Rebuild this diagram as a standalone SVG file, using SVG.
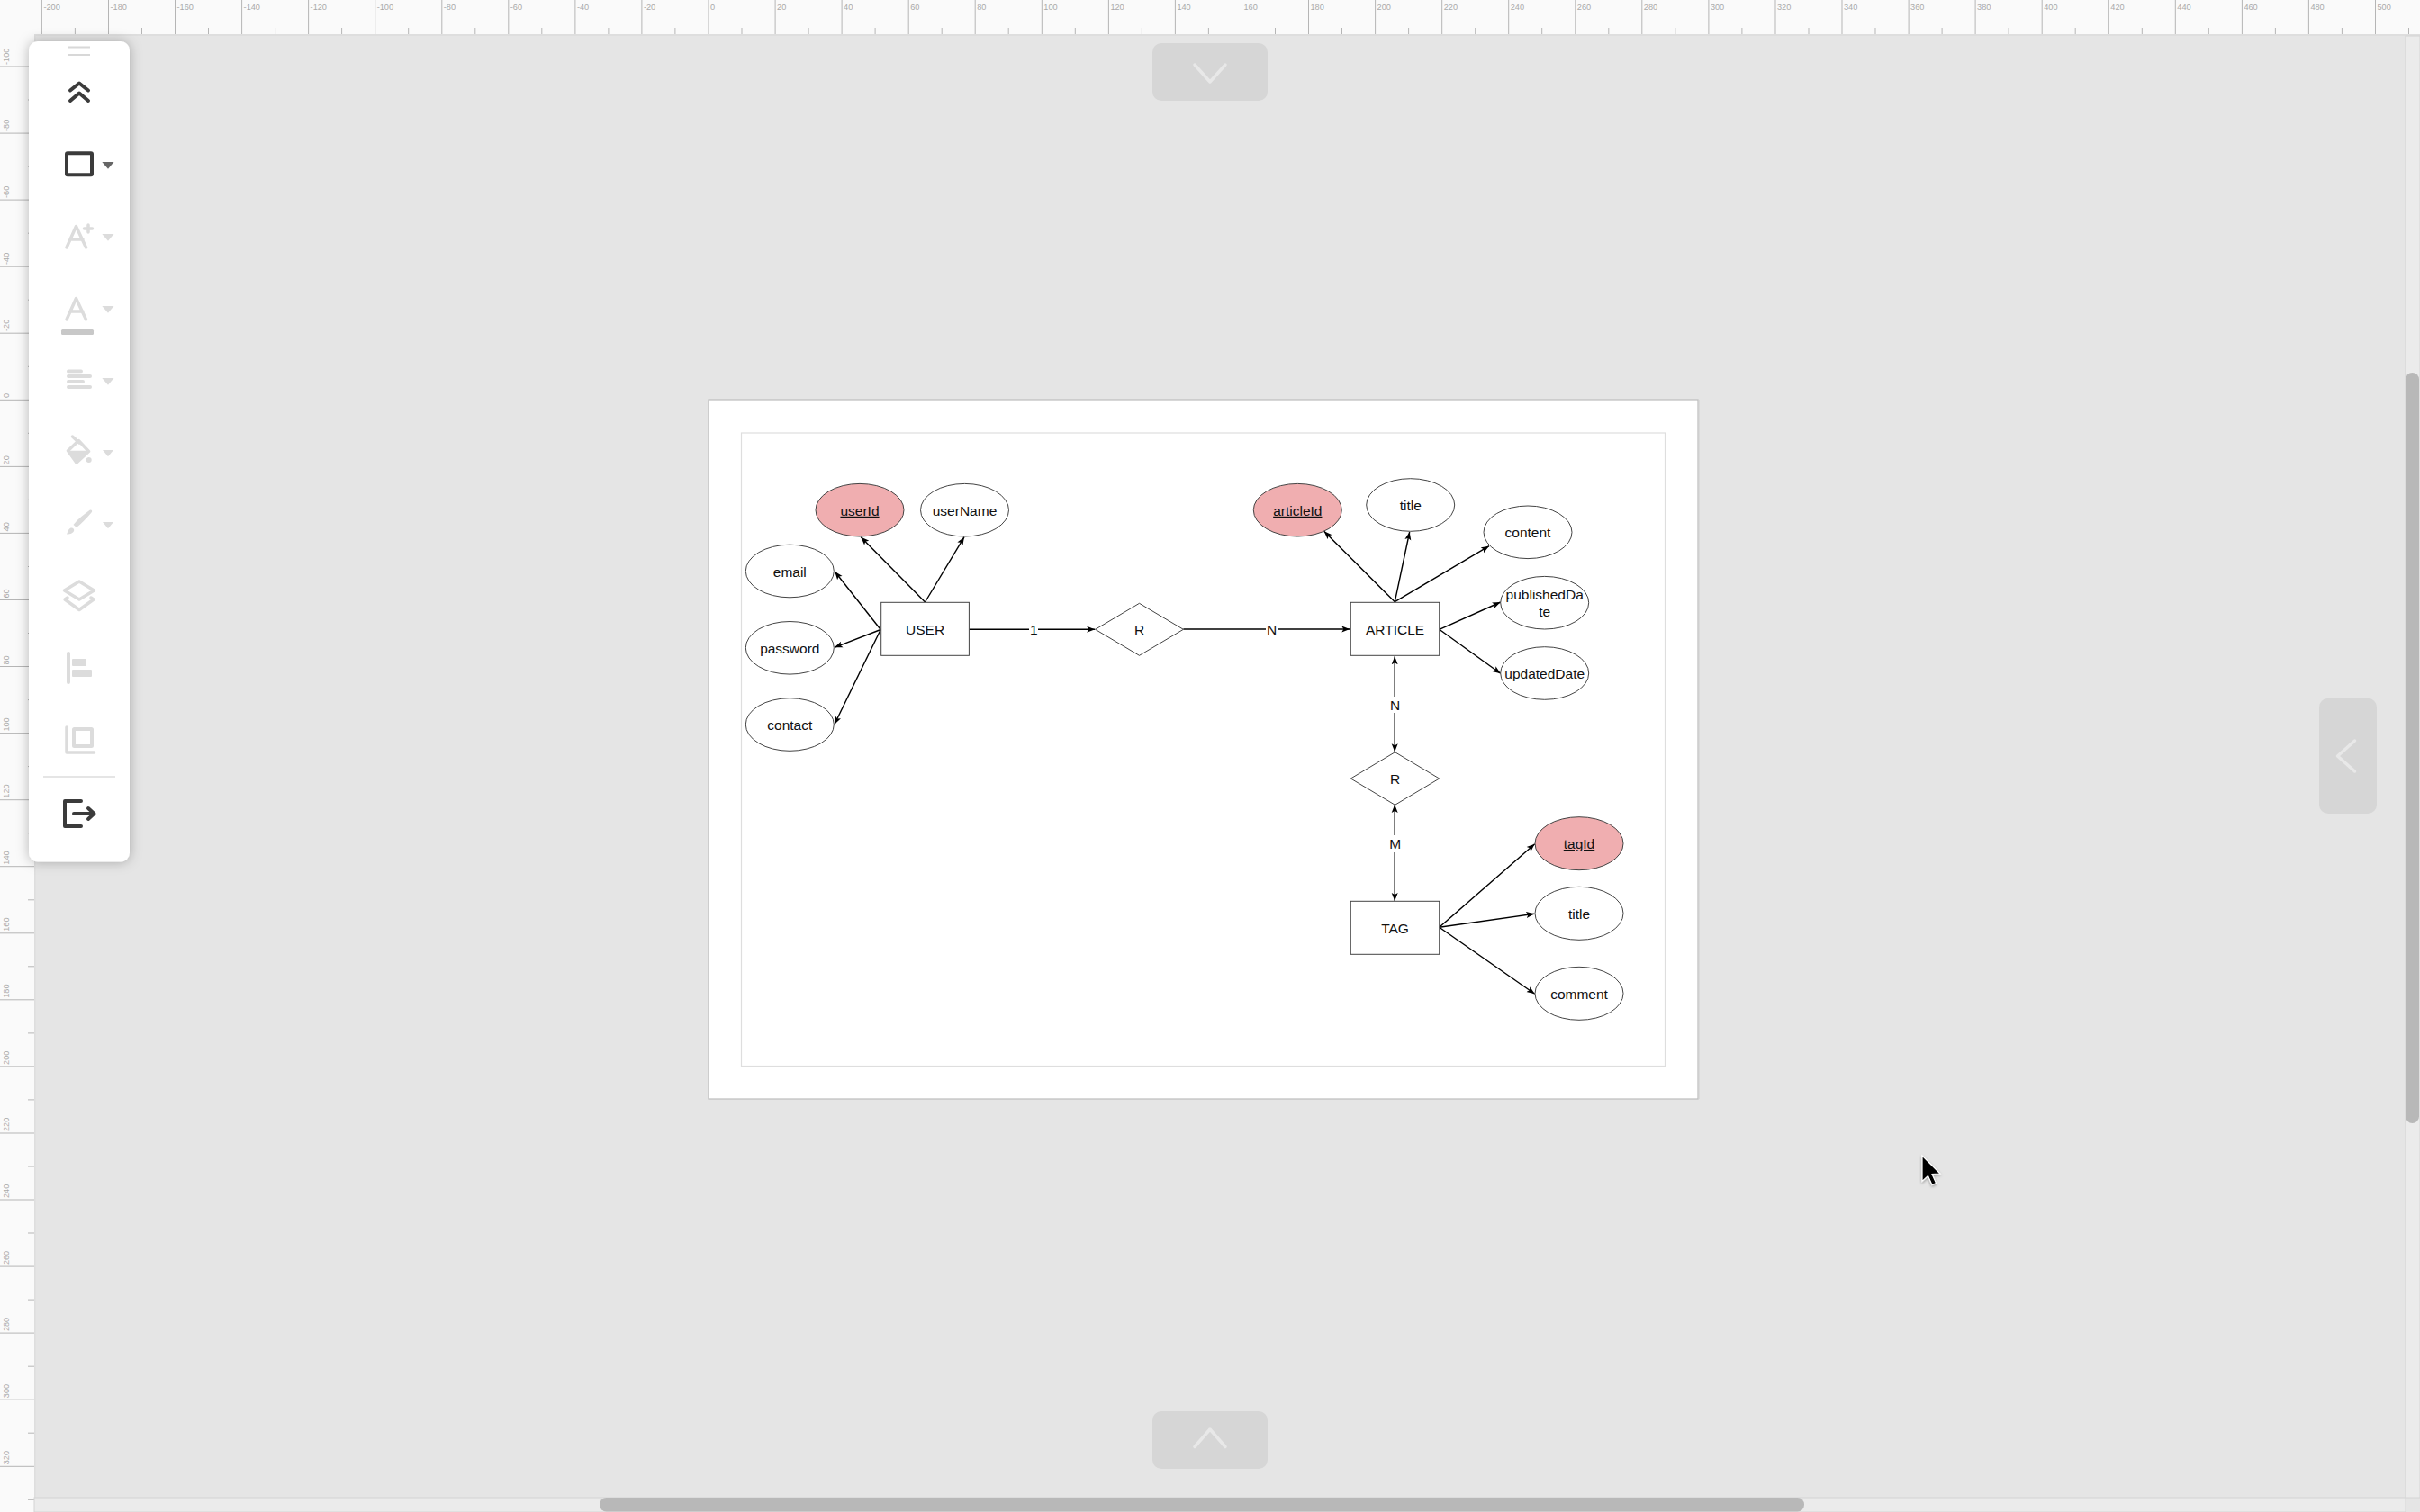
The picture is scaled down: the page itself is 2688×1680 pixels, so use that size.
<svg xmlns="http://www.w3.org/2000/svg" width="2688" height="1680" viewBox="0 0 2688 1680">
<style>
text{font-family:"Liberation Sans",Arial,sans-serif}
.rl{font-size:9.2px;fill:#aaa}
.n{font-size:15.5px;fill:#111;text-anchor:middle}
.u{text-decoration:underline}
.sh{fill:#fff;stroke:#444;stroke-width:1}
.pk{fill:#f0aeb0;stroke:#444;stroke-width:1}
.c{fill:none;stroke:#000;stroke-width:1.4;marker-end:url(#ah)}
.b{marker-start:url(#ah)}
.lb{fill:#fff}
.ic{fill:none;stroke:#dcdcdc;stroke-width:3.5;stroke-linecap:round;stroke-linejoin:round}
.icf{fill:#dcdcdc}
.dk{fill:none;stroke:#3b3b3b;stroke-width:4;stroke-linecap:round;stroke-linejoin:round}
.nav{fill:#d6d6d6}
.chv{fill:none;stroke:#e8e8e8;stroke-width:3.5;stroke-linecap:round;stroke-linejoin:round}
.sb{fill:#b8b8b8}
</style>
<defs>
<marker id="ah" markerUnits="userSpaceOnUse" markerWidth="10" markerHeight="8" refX="9" refY="4" orient="auto-start-reverse"><path d="M0 .5L9 4L0 7.5L2 4Z" fill="#000"/></marker>
<filter id="tb" x="-40%" y="-10%" width="180%" height="120%"><feDropShadow dx="0" dy="0" stdDeviation="7" flood-color="#000" flood-opacity=".28"/></filter>
<filter id="cs" x="-50%" y="-50%" width="200%" height="200%"><feDropShadow dx="0" dy="1.5" stdDeviation="1.5" flood-color="#000" flood-opacity=".35"/></filter>
</defs>
<rect width="2688" height="1680" fill="#e5e5e5"/>

<g id="ruler-top">
<rect width="2688" height="38" fill="#fafafa"/>
<rect y="38" x="38" width="2650" height="2" fill="#dedede"/>
<path fill="none" stroke="#b5b5b5" d="M46.4 0V38M120.5 0V38M194.5 0V38M268.6 0V38M342.6 0V38M416.7 0V38M490.8 0V38M564.8 0V38M638.9 0V38M712.9 0V38M787 0V38M861.1 0V38M935.1 0V38M1009.2 0V38M1083.2 0V38M1157.3 0V38M1231.4 0V38M1305.4 0V38M1379.5 0V38M1453.5 0V38M1527.6 0V38M1601.7 0V38M1675.7 0V38M1749.8 0V38M1823.8 0V38M1897.9 0V38M1972 0V38M2046 0V38M2120.1 0V38M2194.1 0V38M2268.2 0V38M2342.3 0V38M2416.3 0V38M2490.4 0V38M2564.4 0V38M2638.5 0V38"/>
<path fill="none" stroke="#b5b5b5" d="M83.4 31V38M157.5 31V38M231.5 31V38M305.6 31V38M379.6 31V38M453.7 31V38M527.8 31V38M601.8 31V38M675.9 31V38M749.9 31V38M824 31V38M898.1 31V38M972.1 31V38M1046.2 31V38M1120.2 31V38M1194.3 31V38M1268.4 31V38M1342.4 31V38M1416.5 31V38M1490.5 31V38M1564.6 31V38M1638.7 31V38M1712.7 31V38M1786.8 31V38M1860.8 31V38M1934.9 31V38M2009 31V38M2083 31V38M2157.1 31V38M2231.1 31V38M2305.2 31V38M2379.3 31V38M2453.3 31V38M2527.4 31V38M2601.4 31V38M2675.5 31V38"/>
<text class="rl" x="48.4" y="10.5">-200</text><text class="rl" x="122.5" y="10.5">-180</text><text class="rl" x="196.5" y="10.5">-160</text><text class="rl" x="270.6" y="10.5">-140</text><text class="rl" x="344.6" y="10.5">-120</text><text class="rl" x="418.7" y="10.5">-100</text><text class="rl" x="492.8" y="10.5">-80</text><text class="rl" x="566.8" y="10.5">-60</text><text class="rl" x="640.9" y="10.5">-40</text><text class="rl" x="714.9" y="10.5">-20</text><text class="rl" x="789" y="10.5">0</text><text class="rl" x="863.1" y="10.5">20</text><text class="rl" x="937.1" y="10.5">40</text><text class="rl" x="1011.2" y="10.5">60</text><text class="rl" x="1085.2" y="10.5">80</text><text class="rl" x="1159.3" y="10.5">100</text><text class="rl" x="1233.4" y="10.5">120</text><text class="rl" x="1307.4" y="10.5">140</text><text class="rl" x="1381.5" y="10.5">160</text><text class="rl" x="1455.5" y="10.5">180</text><text class="rl" x="1529.6" y="10.5">200</text><text class="rl" x="1603.7" y="10.5">220</text><text class="rl" x="1677.7" y="10.5">240</text><text class="rl" x="1751.8" y="10.5">260</text><text class="rl" x="1825.8" y="10.5">280</text><text class="rl" x="1899.9" y="10.5">300</text><text class="rl" x="1974" y="10.5">320</text><text class="rl" x="2048" y="10.5">340</text><text class="rl" x="2122.1" y="10.5">360</text><text class="rl" x="2196.1" y="10.5">380</text><text class="rl" x="2270.2" y="10.5">400</text><text class="rl" x="2344.3" y="10.5">420</text><text class="rl" x="2418.3" y="10.5">440</text><text class="rl" x="2492.4" y="10.5">460</text><text class="rl" x="2566.4" y="10.5">480</text><text class="rl" x="2640.5" y="10.5">500</text>
</g>

<g id="ruler-left">
<rect width="38" height="1680" fill="#fafafa"/>
<rect x="38" y="38" width="1.5" height="1642" fill="#dedede"/>
<path fill="none" stroke="#b5b5b5" d="M0 74H38M0 148.1H38M0 222.1H38M0 296.2H38M0 370.2H38M0 444.3H38M0 518.4H38M0 592.4H38M0 666.5H38M0 740.5H38M0 814.6H38M0 888.7H38M0 962.7H38M0 1036.8H38M0 1110.8H38M0 1184.9H38M0 1259H38M0 1333H38M0 1407.1H38M0 1481.1H38M0 1555.2H38M0 1629.3H38"/>
<path fill="none" stroke="#b5b5b5" d="M31 111H38M31 185.1H38M31 259.2H38M31 333.2H38M31 407.3H38M31 481.3H38M31 555.4H38M31 629.5H38M31 703.5H38M31 777.6H38M31 851.6H38M31 925.7H38M31 999.8H38M31 1073.8H38M31 1147.9H38M31 1221.9H38M31 1296H38M31 1370H38M31 1444.1H38M31 1518.2H38M31 1592.2H38M31 1666.3H38"/>
<text class="rl" transform="translate(10,72) rotate(-90)">-100</text><text class="rl" transform="translate(10,146) rotate(-90)">-80</text><text class="rl" transform="translate(10,220) rotate(-90)">-60</text><text class="rl" transform="translate(10,294) rotate(-90)">-40</text><text class="rl" transform="translate(10,368) rotate(-90)">-20</text><text class="rl" transform="translate(10,442) rotate(-90)">0</text><text class="rl" transform="translate(10,516.4) rotate(-90)">20</text><text class="rl" transform="translate(10,590.4) rotate(-90)">40</text><text class="rl" transform="translate(10,664.5) rotate(-90)">60</text><text class="rl" transform="translate(10,738.5) rotate(-90)">80</text><text class="rl" transform="translate(10,812.6) rotate(-90)">100</text><text class="rl" transform="translate(10,886.7) rotate(-90)">120</text><text class="rl" transform="translate(10,960.7) rotate(-90)">140</text><text class="rl" transform="translate(10,1034.8) rotate(-90)">160</text><text class="rl" transform="translate(10,1108.8) rotate(-90)">180</text><text class="rl" transform="translate(10,1182.9) rotate(-90)">200</text><text class="rl" transform="translate(10,1257) rotate(-90)">220</text><text class="rl" transform="translate(10,1331) rotate(-90)">240</text><text class="rl" transform="translate(10,1405.1) rotate(-90)">260</text><text class="rl" transform="translate(10,1479.1) rotate(-90)">280</text><text class="rl" transform="translate(10,1553.2) rotate(-90)">300</text><text class="rl" transform="translate(10,1627.3) rotate(-90)">320</text>
</g>

<g id="scrollbars">
<rect x="2672" y="40" width="16" height="1624" fill="#ebebeb" stroke="#d4d4d4"/>
<rect x="38" y="1664" width="2634" height="16" fill="#ebebeb" stroke="#d4d4d4"/>
<rect class="sb" x="2672" y="414" width="15" height="834" rx="7.5"/>
<rect class="sb" x="666" y="1664" width="1338" height="15.5" rx="7.5"/>
</g>

<g id="nav-buttons">
<rect class="nav" x="1280" y="48" width="128" height="64" rx="10"/>
<path class="chv" d="M1327 72L1344 91L1361 72"/>
<rect class="nav" x="1280" y="1568" width="128" height="64" rx="10"/>
<path class="chv" d="M1327 1607.5L1344 1588L1361 1607.5"/>
<rect class="nav" x="2576" y="775.7" width="64" height="128.3" rx="10"/>
<path class="chv" d="M2615.5 823L2596.5 840L2615.5 857"/>
</g>

<g id="page">
<rect x="787" y="444" width="1099" height="777" fill="#fff" stroke="#bdbdbd" stroke-width="1.2"/>
<rect x="1886" y="444" width="1.5" height="777" fill="#cfcfcf"/>
<rect x="823.5" y="481" width="1026" height="703.5" fill="#fff" stroke="#dedede" stroke-width="1.2"/>
</g>

<g id="connectors">
<path class="c" d="M1027.5 669L956.3 596.7"/>
<path class="c" d="M1027.5 669L1071 596.7"/>
<path class="c" d="M978.2 699.5L927.3 635"/>
<path class="c" d="M978.2 699.5L926.9 719.3"/>
<path class="c" d="M978.2 699.5L926.9 804.7"/>
<path class="c" d="M1076.4 699.3H1216.2"/>
<path class="c" d="M1314.4 699H1499.3"/>
<path class="c" d="M1549.3 668.7L1470.7 590.3"/>
<path class="c" d="M1549.3 668.7L1565.7 591"/>
<path class="c" d="M1549.3 668.7L1654 606.7"/>
<path class="c" d="M1598.7 699.3L1666.7 669"/>
<path class="c" d="M1598.7 699.3L1666.7 748.3"/>
<path class="c b" d="M1549.2 729.3V835.3"/>
<path class="c b" d="M1549.2 894V1001"/>
<path class="c" d="M1598.7 1030.3L1704.7 937.7"/>
<path class="c" d="M1598.7 1030.3L1704.3 1015.3"/>
<path class="c" d="M1598.7 1030.3L1704.7 1104.3"/>
<rect class="lb" x="1143" y="690" width="10" height="18"/><text class="n" x="1148.3" y="704.8">1</text>
<rect class="lb" x="1406" y="690" width="13" height="18"/><text class="n" x="1412.7" y="704.8">N</text>
<rect class="lb" x="1541" y="774" width="17" height="18"/><text class="n" x="1549.7" y="789">N</text>
<rect class="lb" x="1540" y="928" width="19" height="19"/><text class="n" x="1549.7" y="943">M</text>
</g>

<g id="userId"><ellipse class="pk" cx="955" cy="566.7" rx="49" ry="29.3"/><text class="n u" x="955" y="572.8">userId</text></g>
<g id="userName"><ellipse class="sh" cx="1071.5" cy="566.7" rx="49" ry="29.3"/><text class="n" x="1071.5" y="572.8">userName</text></g>
<g id="email"><ellipse class="sh" cx="877.3" cy="634.5" rx="49" ry="29.3"/><text class="n" x="877.3" y="640.5">email</text></g>
<g id="password"><ellipse class="sh" cx="877.3" cy="719.8" rx="49" ry="29.3"/><text class="n" x="877.3" y="725.8">password</text></g>
<g id="contact"><ellipse class="sh" cx="877.3" cy="805" rx="49" ry="29.3"/><text class="n" x="877.3" y="811">contact</text></g>
<g id="USER"><rect class="sh" x="978.7" y="669.3" width="97.7" height="59"/><text class="n" x="1027.6" y="704.8">USER</text></g>
<g id="R1"><path class="sh" d="M1265.5 670.3L1314.4 699.3L1265.5 728.3L1216.6 699.3Z"/><text class="n" x="1265.5" y="704.8">R</text></g>
<g id="articleId"><ellipse class="pk" cx="1441.3" cy="566.7" rx="49" ry="29.3"/><text class="n u" x="1441.3" y="572.8">articleId</text></g>
<g id="title1"><ellipse class="sh" cx="1566.7" cy="561" rx="49" ry="29.3"/><text class="n" x="1566.7" y="567">title</text></g>
<g id="content"><ellipse class="sh" cx="1697" cy="591.3" rx="49" ry="29.3"/><text class="n" x="1697" y="597.3">content</text></g>
<g id="publishedDate"><ellipse class="sh" cx="1715.7" cy="669.7" rx="49" ry="29.3"/><text class="n" x="1715.7" y="666">publishedDa</text><text class="n" x="1715.7" y="685">te</text></g>
<g id="updatedDate"><ellipse class="sh" cx="1715.7" cy="748" rx="49" ry="29.3"/><text class="n" x="1715.7" y="754">updatedDate</text></g>
<g id="ARTICLE"><rect class="sh" x="1500.3" y="669.3" width="98.4" height="59"/><text class="n" x="1549.5" y="704.8">ARTICLE</text></g>
<g id="R2"><path class="sh" d="M1549.5 835.7L1598.7 865L1549.5 894.3L1500.3 865Z"/><text class="n" x="1549.5" y="870.5">R</text></g>
<g id="tagId"><ellipse class="pk" cx="1754" cy="937.2" rx="49" ry="29.5"/><text class="n u" x="1754" y="943">tagId</text></g>
<g id="title2"><ellipse class="sh" cx="1754" cy="1014.8" rx="49" ry="29.5"/><text class="n" x="1754" y="1020.8">title</text></g>
<g id="comment"><ellipse class="sh" cx="1754" cy="1103.8" rx="49" ry="29.5"/><text class="n" x="1754" y="1109.8">comment</text></g>
<g id="TAG"><rect class="sh" x="1500.3" y="1001.3" width="98.4" height="59"/><text class="n" x="1549.5" y="1036.8">TAG</text></g>

<g id="toolbar">
<rect x="32" y="46" width="112" height="911.5" rx="10" fill="#fff" filter="url(#tb)"/>
<path fill="none" stroke="#d8d8d8" stroke-width="2" d="M76 52.5H100M76 61H100"/>
<path class="dk" stroke-width="3.5" d="M78 100.5L88 92.5L98 100.5M78 112L88 103.5L98 112"/>
<rect x="74" y="170.3" width="28" height="24" rx="1" fill="none" stroke="#3b3b3b" stroke-width="4"/>
<path fill="#666" d="M113.3 180H126.5L120 187.7Z"/>
<path class="ic" d="M74 275L84.5 251.5L95.5 275M78 266H92"/>
<path class="ic" stroke-width="3" d="M98 250V258M93.5 254H102.5"/>
<path class="icf" d="M113.3 260H126.5L120 267.7Z"/>
<path class="ic" d="M74 355L84.5 331.5L95.5 355M78 346H92"/>
<rect x="68" y="366" width="36" height="6" rx="1.5" fill="#c8c8c8"/>
<path class="icf" d="M113.3 340H126.5L120 347.7Z"/>
<rect class="icf" x="74" y="410.5" width="18" height="3.8" rx="1.9"/>
<rect class="icf" x="74" y="416" width="28" height="4" rx="2"/>
<rect class="icf" x="74" y="422" width="20" height="4" rx="2"/>
<rect class="icf" x="74" y="428" width="28" height="4" rx="2"/>
<path class="icf" d="M113.3 420H126.5L120 427.7Z"/>
<path class="ic" stroke-width="3" d="M75.5 500.7L87.3 489.5L98.5 501.5L85 514Z"/>
<path class="icf" d="M75.5 500.7H98.5L85 514Z"/>
<path class="ic" stroke-width="3" d="M80.5 485L88 492"/>
<circle class="icf" cx="98.7" cy="511" r="3"/>
<path class="icf" d="M114 500H126L120 507.3Z"/>
<path class="icf" d="M100 566.5C102 566 103 568 101.5 569.5C96 576 90 582 85 586L81.5 583C87 576 94 571 100 566.5Z"/>
<path class="icf" d="M78.5 586.5C81 586 83 588 82 590C81 593 76 593.5 74 593.5C75.5 591 75.5 588 78.5 586.5Z"/>
<path class="icf" d="M114 580H126L120 587.3Z"/>
<path class="ic" d="M88 646L104.5 656L88 666L71.5 656Z"/>
<path class="ic" d="M75 664L72 666L88 677.5L104 666L101 664"/>
<rect class="icf" x="74" y="724" width="4" height="36" rx="2"/>
<rect class="icf" x="80" y="732" width="16" height="8" rx="1"/>
<rect class="icf" x="80" y="744" width="22" height="8" rx="1"/>
<rect x="82" y="810" width="20" height="19" fill="none" stroke="#dcdcdc" stroke-width="4" rx=".5"/>
<path class="ic" stroke-width="4" d="M74 808V836H104.5"/>
<rect x="48" y="862" width="80" height="2" fill="#e5e5e5"/>
<path class="dk" d="M90 890H72V918H90"/>
<path class="dk" d="M82 904H104.5M98 898L104.5 904L98 910"/>
</g>

<g id="cursor"><path d="M2135 1284V1312.5L2141.5 1306.5L2146 1316.5L2150.5 1314.5L2146 1304.5L2155 1304Z" fill="#000" stroke="#fff" stroke-width="1.2" filter="url(#cs)"/></g>
</svg>
